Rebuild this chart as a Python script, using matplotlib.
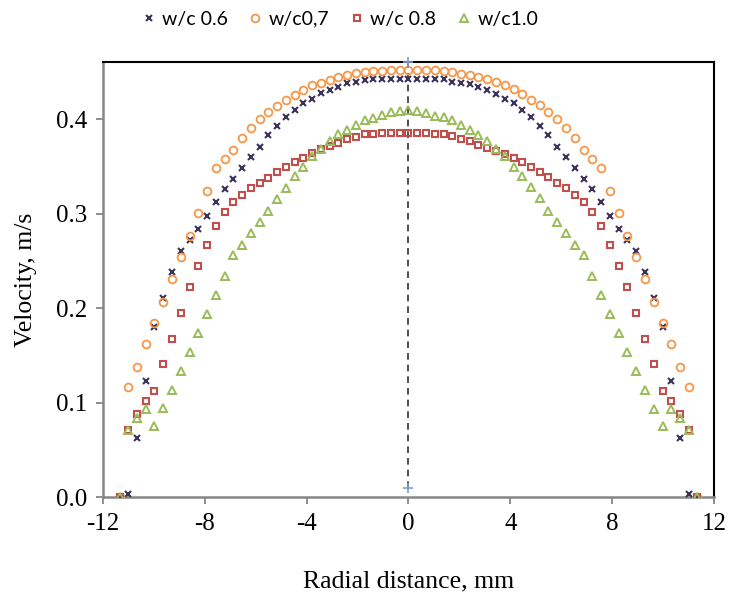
import matplotlib
matplotlib.use("Agg")
import matplotlib.pyplot as plt
from matplotlib.lines import Line2D

# Radial positions (mm)
radial = [-11.35, -11.01, -10.66, -10.32, -9.98, -9.63, -9.29, -8.94, -8.60, -8.26,
          -7.91, -7.57, -7.22, -6.88, -6.54, -6.19, -5.85, -5.50, -5.16, -4.82,
          -4.47, -4.13, -3.78, -3.44, -3.10, -2.75, -2.41, -2.06, -1.72, -1.38,
          -1.03, -0.69, -0.34, 0.00, 0.34, 0.69, 1.03, 1.38, 1.72, 2.06,
          2.41, 2.75, 3.10, 3.44, 3.78, 4.13, 4.47, 4.82, 5.16, 5.50,
          5.85, 6.19, 6.54, 6.88, 7.22, 7.57, 7.91, 8.26, 8.60, 8.94,
          9.29, 9.63, 9.98, 10.32, 10.66, 11.01, 11.35]

# Velocity (m/s) per mix
wc06 = [0.000, 0.004, 0.063, 0.123, 0.180, 0.211, 0.238, 0.261, 0.272, 0.284,
        0.298, 0.313, 0.326, 0.337, 0.348, 0.360, 0.371, 0.383, 0.393, 0.402,
        0.410, 0.417, 0.422, 0.428, 0.431, 0.434, 0.439, 0.440, 0.442, 0.443,
        0.443, 0.443, 0.443, 0.443, 0.443, 0.443, 0.443, 0.443, 0.440, 0.439,
        0.437, 0.434, 0.431, 0.427, 0.422, 0.417, 0.410, 0.402, 0.393, 0.383,
        0.371, 0.360, 0.348, 0.337, 0.326, 0.313, 0.298, 0.284, 0.272, 0.261,
        0.238, 0.211, 0.180, 0.123, 0.063, 0.004, 0.000]

wc07 = [0.000, 0.117, 0.138, 0.162, 0.185, 0.207, 0.231, 0.254, 0.277, 0.301,
        0.324, 0.348, 0.358, 0.368, 0.380, 0.391, 0.400, 0.408, 0.414, 0.421,
        0.426, 0.431, 0.436, 0.439, 0.442, 0.445, 0.447, 0.449, 0.450, 0.451,
        0.451, 0.452, 0.452, 0.452, 0.452, 0.452, 0.452, 0.451, 0.450, 0.448,
        0.447, 0.445, 0.443, 0.440, 0.436, 0.432, 0.427, 0.421, 0.415, 0.408,
        0.400, 0.391, 0.380, 0.368, 0.358, 0.348, 0.324, 0.301, 0.277, 0.254,
        0.231, 0.207, 0.185, 0.162, 0.138, 0.117, 0.000]

wc08 = [0.000, 0.071, 0.088, 0.102, 0.113, 0.141, 0.168, 0.195, 0.223, 0.245,
        0.267, 0.287, 0.302, 0.313, 0.320, 0.327, 0.333, 0.338, 0.344, 0.350,
        0.355, 0.359, 0.364, 0.369, 0.372, 0.375, 0.379, 0.381, 0.384, 0.385,
        0.386, 0.386, 0.386, 0.386, 0.386, 0.386, 0.385, 0.384, 0.382, 0.379,
        0.377, 0.373, 0.370, 0.367, 0.363, 0.359, 0.355, 0.350, 0.344, 0.339,
        0.333, 0.327, 0.320, 0.313, 0.302, 0.287, 0.267, 0.245, 0.223, 0.195,
        0.168, 0.141, 0.113, 0.102, 0.088, 0.071, 0.000]

wc10 = [0.000, 0.071, 0.084, 0.094, 0.075, 0.095, 0.114, 0.134, 0.154, 0.174,
        0.194, 0.214, 0.234, 0.256, 0.267, 0.280, 0.291, 0.303, 0.316, 0.327,
        0.340, 0.350, 0.361, 0.369, 0.377, 0.384, 0.389, 0.394, 0.399, 0.401,
        0.405, 0.408, 0.409, 0.410, 0.409, 0.407, 0.404, 0.402, 0.399, 0.394,
        0.389, 0.383, 0.377, 0.369, 0.361, 0.350, 0.340, 0.328, 0.317, 0.303,
        0.291, 0.280, 0.267, 0.256, 0.234, 0.214, 0.194, 0.174, 0.154, 0.134,
        0.114, 0.094, 0.075, 0.094, 0.084, 0.071, 0.000]

# centre line (x = 0)
centre_x = [0, 0]
centre_y = [0.0099, 0.461]

labels = ["w/c 0.6", "w/c0,7", "w/c 0.8", "w/c1.0"]
x_ticks = [-12, -8, -4, 0, 4, 8, 12]
y_ticks = [0.0, 0.1, 0.2, 0.3, 0.4]

serif = "Liberation Serif"
grey = "#868686"

fig = plt.figure(figsize=(7.31, 6.01), dpi=100)
ax = fig.add_axes([0.1409, 0.1725, 0.8358, 0.7248])

styles = [
    dict(marker="x", color="#3C3157", ms=4.8, mew=1.5),
    dict(marker="o", color="#F79646", ms=5.6, mew=1.3, mfc="none"),
    dict(marker="s", color="#C0504D", ms=5.0, mew=1.5, mfc="none"),
    dict(marker="^", color="#9BBB59", ms=5.4, mew=1.4, mfc="none"),
]
series = [wc06, wc07, wc08, wc10]
handles = []
for vals, st, lab in zip(series, styles, labels):
    ax.plot(radial, vals, ls="none", label=lab, zorder=3, **st)
    handles.append(Line2D([], [], ls="none", **st))

# dashed centre line with end markers
ax.plot(centre_x, centre_y, ls=(0, (4, 3)), color="#303030", lw=1.2, zorder=2)
ax.plot(centre_x, centre_y, ls="none", marker="+", ms=7, mew=1.2,
        color="#7E9BCF", zorder=4, clip_on=False)

ax.set_xlim(-12, 12)
ax.set_ylim(0, 0.461)
ax.set_xticks(x_ticks)
ax.set_yticks(y_ticks)
ax.set_xticklabels([str(t) for t in x_ticks])
ax.set_yticklabels([f"{t:.1f}" for t in y_ticks])
ax.tick_params(axis="both", direction="out", colors=grey, labelcolor="black",
               labelsize=18, length=5, width=1.3)
for lab in ax.get_xticklabels() + ax.get_yticklabels():
    lab.set_fontfamily(serif)
ax.tick_params(axis="x", pad=6)
ax.tick_params(axis="y", pad=6)

for side in ["left", "bottom"]:
    ax.spines[side].set_color(grey)
    ax.spines[side].set_linewidth(1.8)
for side in ["top", "right"]:
    ax.spines[side].set_color("black")
    ax.spines[side].set_linewidth(1.5)

ax.set_xlabel("Radial distance, mm", fontsize=18.5, family=serif, labelpad=26)
ax.set_ylabel("Velocity, m/s", fontsize=18.5, family=serif, labelpad=14)

fig.legend(handles, labels, loc="center", bbox_to_anchor=(0.4645, 0.968),
           ncol=4, frameon=False, prop={"family": "Lato", "size": 14},
           handlelength=0.8, handletextpad=0.3, columnspacing=1.0)

fig.savefig("out.png", dpi=100)
